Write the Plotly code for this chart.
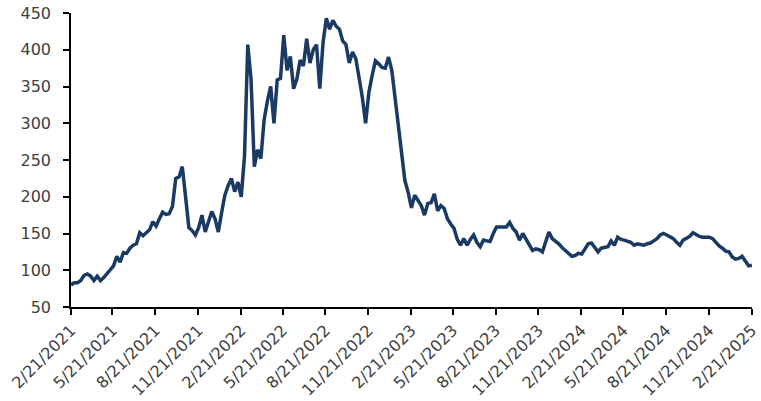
import pandas as pd
import plotly.graph_objects as go

start_date = "2021-02-21"
end_date = "2025-02-21"
values = [
    80, 83, 83, 86, 93, 95, 92, 86, 92, 86, 90, 95, 100, 106, 119, 111, 124, 123, 130, 134,
    136, 151, 147, 151, 155, 166, 160, 170, 179, 176, 177, 187, 225, 227, 241, 200, 158, 154, 148, 158,
    175, 152, 165, 180, 170, 152, 178, 202, 215, 225, 207, 220, 200, 255, 407, 360, 241, 264, 252, 305,
    330, 350, 300, 359, 361, 420, 372, 391, 347, 360, 386, 378, 415, 382, 400, 407, 347, 410, 443, 428,
    440, 432, 428, 412, 407, 382, 397, 388, 362, 335, 300, 342, 365, 385, 381, 376, 375, 390, 372, 335,
    300, 262, 222, 206, 185, 202, 194, 188, 175, 191, 192, 204, 181, 188, 184, 170, 163, 157, 142, 134,
    143, 134, 142, 148, 138, 132, 141, 140, 139, 150, 159, 159, 159, 159, 165, 157, 152, 141, 150, 142,
    133, 127, 129, 128, 125, 140, 152, 143, 140, 136, 131, 127, 122, 119, 120, 123, 122, 130, 136, 137,
    131, 125, 130, 131, 132, 140, 134, 145, 142, 141, 140, 138, 134, 136, 135, 134, 136, 137, 140, 143,
    148, 150, 148, 145, 143, 138, 134, 141, 143, 146, 151, 148, 146, 145, 145, 145, 143, 137, 133, 130,
    126, 125, 118, 115, 116, 119, 112, 106, 107,
]
dates = pd.date_range(start=start_date, end=end_date, periods=len(values))

tick_dates = [
    "2021-02-21", "2021-05-21", "2021-08-21", "2021-11-21",
    "2022-02-21", "2022-05-21", "2022-08-21", "2022-11-21",
    "2023-02-21", "2023-05-21", "2023-08-21", "2023-11-21",
    "2024-02-21", "2024-05-21", "2024-08-21", "2024-11-21",
    "2025-02-21",
]
tick_labels = [
    "2/21/2021", "5/21/2021", "8/21/2021", "11/21/2021",
    "2/21/2022", "5/21/2022", "8/21/2022", "11/21/2022",
    "2/21/2023", "5/21/2023", "8/21/2023", "11/21/2023",
    "2/21/2024", "5/21/2024", "8/21/2024", "11/21/2024",
    "2/21/2025",
]
y_ticks = [50, 100, 150, 200, 250, 300, 350, 400, 450]

fig = go.Figure()
fig.add_trace(go.Scatter(
    x=dates, y=values, mode="lines",
    line=dict(color="#1B3A63", width=3.5),
    hoverinfo="x+y",
))

yfont = dict(family="DejaVu Sans", size=16, color="#404040")
xfont = dict(family="DejaVu Sans", size=16, color="#404040")
fig.update_layout(
    width=761, height=401,
    margin=dict(l=71, r=9, t=13, b=94),
    paper_bgcolor="white", plot_bgcolor="white",
    showlegend=False,
    font=yfont,
)
fig.update_xaxes(
    type="date",
    range=["2021-02-21", "2025-02-21 06:00"],
    tickmode="array", tickvals=tick_dates, ticktext=tick_labels,
    tickangle=-45, tickfont=xfont,
    showgrid=False, zeroline=False, automargin=False,
    ticklabeloverflow="allow",
    showline=True, linecolor="black", linewidth=1.5,
    ticks="outside", ticklen=6, tickcolor="black", tickwidth=1.5,
)
fig.update_yaxes(
    range=[50, 450], tickmode="array", tickvals=y_ticks,
    tickfont=yfont, automargin=False,
    ticklabeloverflow="allow",
    showgrid=False, zeroline=False,
    showline=True, linecolor="black", linewidth=1.5,
    ticks="outside", ticklen=6, tickcolor="black", tickwidth=1.5,
    ticklabelstandoff=9,
)

# remove the browser's default 8px body margin so the figure sits at the page origin
fig.write_html(
    "out.html",
    config={"displayModeBar": False},
    post_script="document.body.style.margin='0';document.body.style.overflow='hidden';",
)
